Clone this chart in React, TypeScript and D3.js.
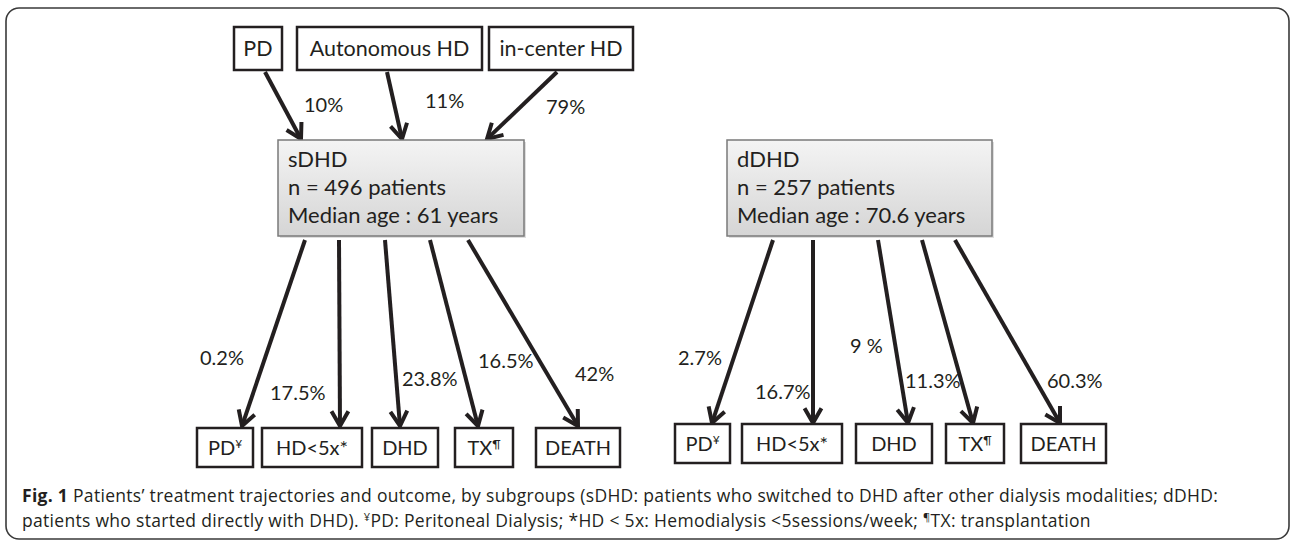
import * as d3 from 'd3';
import { useEffect } from 'react';

// diagram content
const sources = ['PD', 'Autonomous HD', 'in-center HD'];
const sourceShares = ['10%', '11%', '79%'];
const groupNames = ['sDHD', 'dDHD'];
const groupPatients = [496, 257];
const groupAges = ['61', '70.6'];
const outcomeNames = ['PD', 'HD<5x*', 'DHD', 'TX', 'DEATH'];
const outcomeMarks = ['¥', '', '', '¶', ''];
const outcomeShares = [
  ['0.2%', '17.5%', '23.8%', '16.5%', '42%'],
  ['2.7%', '16.7%', '9 %', '11.3%', '60.3%'],
];

// layout (pixels)
const W = 1292;
const H = 540;
const sourceBoxX = [[234, 282], [297, 482], [489, 633]];
const sourceBoxY = [27, 70];
const sourceArrowFrom = [265, 387, 557];
const sourceArrowTo = [301, 402, 487];
const sourceArrowY = [72, 139];
const sourceLabelPos = [[304, 112], [425, 108], [546, 114]];

const groupBoxX = [[278, 524], [727, 992]];
const groupBoxY = [140, 236];

const outcomeBoxX = [
  [[197, 253], [262, 362], [372, 438], [455, 513], [536, 620]],
  [[675, 730], [742, 842], [856, 932], [946, 1004], [1021, 1106]],
];
const outcomeBoxY = [[428, 467], [424, 463]];
const outcomeArrowFrom = [[305, 339, 385, 430, 468], [773, 813, 878, 922, 955]];
const outcomeArrowTo = [[242, 340, 400, 478, 578], [712, 813, 908, 973, 1060]];
const outcomeArrowY = [[240, 426], [240, 423]];
const outcomeLabelPos = [
  [[200, 365], [270, 400], [402, 386], [478, 368], [575, 381]],
  [[678, 365], [755, 399], [850, 353], [905, 388], [1047, 388]],
];

const INK = '#231f20';
const FONT = 'Lato, "Open Sans", sans-serif';

const line = d3.line<[number, number]>();

function Arrow({ x1, y1, x2, y2 }: { x1: number; y1: number; x2: number; y2: number }) {
  const a = Math.atan2(y2 - y1, x2 - x1);
  const len = 17;
  const spread = 0.52;
  const h1: [number, number] = [x2 - len * Math.cos(a - spread), y2 - len * Math.sin(a - spread)];
  const h2: [number, number] = [x2 - len * Math.cos(a + spread), y2 - len * Math.sin(a + spread)];
  return (
    <g stroke={INK} strokeWidth={4} fill="none">
      <path d={line([[x1, y1], [x2 - 2 * Math.cos(a), y2 - 2 * Math.sin(a)]]) || ''} />
      <path d={line([h1, [x2, y2], h2]) || ''} strokeLinejoin="miter" />
    </g>
  );
}

export default function App() {
  useEffect(() => {
    document.body.style.margin = '0';
  }, []);

  return (
    <svg width={W} height={H} style={{ display: 'block', background: '#fff' }} fontFamily={FONT}>
      <defs>
        <linearGradient id="grp" x1="0" y1="0" x2="0" y2="1">
          <stop offset="0" stopColor="#f4f4f4" />
          <stop offset="1" stopColor="#d5d5d5" />
        </linearGradient>
      </defs>

      {/* frame */}
      <rect x={6} y={8} width={1283} height={531} rx={13} fill="none" stroke="#3a3a3a" strokeWidth={1.6} />

      {/* source boxes */}
      {sources.map((s, i) => (
        <g key={s}>
          <rect
            x={sourceBoxX[i][0]}
            y={sourceBoxY[0]}
            width={sourceBoxX[i][1] - sourceBoxX[i][0]}
            height={sourceBoxY[1] - sourceBoxY[0]}
            fill="#fff"
            stroke={INK}
            strokeWidth={2.5}
          />
          <text
            x={(sourceBoxX[i][0] + sourceBoxX[i][1]) / 2}
            y={(sourceBoxY[0] + sourceBoxY[1]) / 2 + 7.5}
            textAnchor="middle"
            fontSize={21.5}
            fill={INK}
          >
            {s}
          </text>
          <Arrow x1={sourceArrowFrom[i]} y1={sourceArrowY[0]} x2={sourceArrowTo[i]} y2={sourceArrowY[1]} />
          <text x={sourceLabelPos[i][0]} y={sourceLabelPos[i][1]} fontSize={20} fill={INK}>
            {sourceShares[i]}
          </text>
        </g>
      ))}

      {/* groups */}
      {groupNames.map((g, gi) => (
        <g key={g}>
          <rect
            x={groupBoxX[gi][0] + 2}
            y={groupBoxY[0] + 2}
            width={groupBoxX[gi][1] - groupBoxX[gi][0]}
            height={groupBoxY[1] - groupBoxY[0]}
            fill="#bdbdbd"
            opacity={0.5}
          />
          <rect
            x={groupBoxX[gi][0]}
            y={groupBoxY[0]}
            width={groupBoxX[gi][1] - groupBoxX[gi][0]}
            height={groupBoxY[1] - groupBoxY[0]}
            fill="url(#grp)"
            stroke="#7a7a7a"
            strokeWidth={1.5}
          />
          {[g, `n = ${groupPatients[gi]} patients`, `Median age : ${groupAges[gi]} years`].map((t, li) => (
            <text key={li} x={groupBoxX[gi][0] + 10} y={groupBoxY[0] + 27 + li * 28} fontSize={22} fill={INK}>
              {t}
            </text>
          ))}

          {outcomeNames.map((o, oi) => {
            const bx = outcomeBoxX[gi][oi];
            const by = outcomeBoxY[gi];
            const lp = outcomeLabelPos[gi][oi];
            return (
              <g key={o}>
                <Arrow
                  x1={outcomeArrowFrom[gi][oi]}
                  y1={outcomeArrowY[gi][0]}
                  x2={outcomeArrowTo[gi][oi]}
                  y2={outcomeArrowY[gi][1]}
                />
                <rect
                  x={bx[0]}
                  y={by[0]}
                  width={bx[1] - bx[0]}
                  height={by[1] - by[0]}
                  fill="#fff"
                  stroke={INK}
                  strokeWidth={2.5}
                />
                <text x={(bx[0] + bx[1]) / 2} y={(by[0] + by[1]) / 2 + 7} textAnchor="middle" fontSize={20} fill={INK}>
                  {o}
                  {outcomeMarks[oi] && (
                    <tspan fontSize={12} dy={-7}>
                      {outcomeMarks[oi]}
                    </tspan>
                  )}
                </text>
                <text x={lp[0]} y={lp[1]} fontSize={20} fill={INK}>
                  {outcomeShares[gi][oi]}
                </text>
              </g>
            );
          })}
        </g>
      ))}

      {/* caption */}
      <g fontFamily='"Open Sans", sans-serif' fontSize={17.5} letterSpacing={0.3} fill={INK}>
        <text x={22} y={502}>
          <tspan fontWeight="bold">Fig. 1</tspan> Patients’ treatment trajectories and outcome, by subgroups (sDHD: patients
          who switched to DHD after other dialysis modalities; dDHD:
        </text>
        <text x={22} y={527}>
          patients who started directly with DHD).{' '}
          <tspan fontSize={11} dy={-6}>¥</tspan>
          <tspan dy={6}>PD: Peritoneal Dialysis; *HD &lt; 5x: Hemodialysis &lt;5sessions/week; </tspan>
          <tspan fontSize={11} dy={-6}>¶</tspan>
          <tspan dy={6}>TX: transplantation</tspan>
        </text>
      </g>
    </svg>
  );
}
